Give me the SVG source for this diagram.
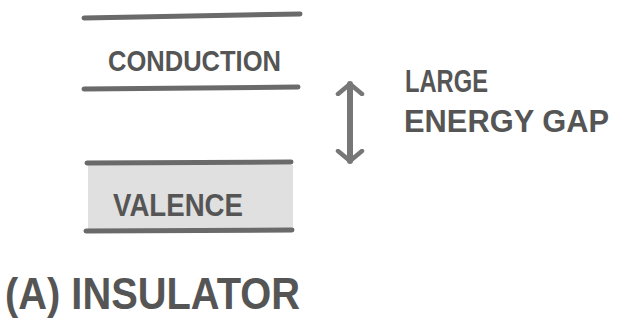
<svg xmlns="http://www.w3.org/2000/svg" width="629" height="328" viewBox="0 0 629 328">
  <style>
    .band { stroke: #6a6a6a; stroke-width: 5; stroke-linecap: round; fill: none; }
    .lbl { font-family: "Liberation Sans", "DejaVu Sans", sans-serif; font-weight: bold; fill: #555; }
    .conn { stroke: #777; stroke-width: 6; stroke-linecap: round; fill: none; }
  </style>
  <defs>
    <marker id="head" viewBox="0 0 14 30" refX="12" refY="15" markerWidth="14" markerHeight="30" orient="auto-start-reverse" markerUnits="userSpaceOnUse">
      <path d="M2,3 L12,15 L2,27" fill="none" stroke="#777" stroke-width="4.5" stroke-linecap="round" stroke-linejoin="round"/>
    </marker>
  </defs>
  <rect width="629" height="328" fill="#ffffff"/>

  <g id="conduction-band">
    <path class="band" d="M84,18 L300,14"/>
    <text class="lbl" x="108" y="71" font-size="30" textLength="173" lengthAdjust="spacingAndGlyphs">CONDUCTION</text>
    <path class="band" d="M84,89 L298,87"/>
  </g>

  <g id="valence-band">
    <rect x="88" y="165" width="205" height="65" fill="#d6d6d6" opacity="0.75"/>
    <path class="band" d="M87,163 L291,162"/>
    <text class="lbl" x="113" y="216" font-size="32" textLength="130" lengthAdjust="spacingAndGlyphs">VALENCE</text>
    <path class="band" d="M86,231 L292,230"/>
  </g>

  <g id="connectors">
    <path class="conn" d="M350,84 L350,161" marker-start="url(#head)" marker-end="url(#head)"/>
  </g>

  <g id="gap-label">
    <text class="lbl" x="405" y="92" font-size="31" textLength="83" lengthAdjust="spacingAndGlyphs">LARGE</text>
    <text class="lbl" x="404" y="132" font-size="32" textLength="205" lengthAdjust="spacingAndGlyphs">ENERGY GAP</text>
  </g>

  <g id="caption">
    <text class="lbl" x="5" y="309" font-size="44" textLength="295" lengthAdjust="spacingAndGlyphs">(A) INSULATOR</text>
  </g>
</svg>
